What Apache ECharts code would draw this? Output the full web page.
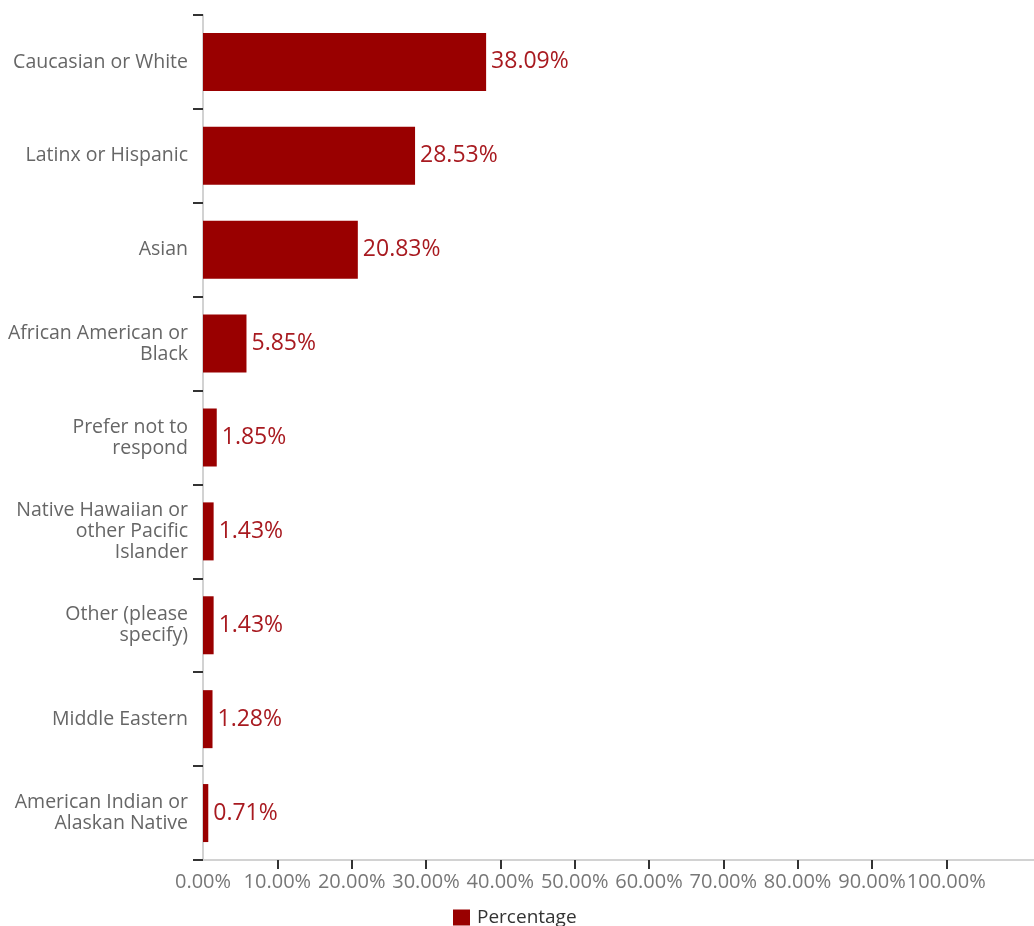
<!DOCTYPE html>
<html>
<head>
<meta charset="utf-8">
<script src="https://cdn.jsdelivr.net/npm/echarts@6/dist/echarts.min.js"></script>
<style>
html,body{margin:0;padding:0;background:#fff;}
#chart{width:1034px;height:926px;}
</style>
</head>
<body>
<div id="chart"></div>
<script>
const categories = [
  "Caucasian or White",
  "Latinx or Hispanic",
  "Asian",
  "African American or\nBlack",
  "Prefer not to\nrespond",
  "Native Hawaiian or\nother Pacific\nIslander",
  "Other (please\nspecify)",
  "Middle Eastern",
  "American Indian or\nAlaskan Native"
];
const percentages = [38.09, 28.53, 20.83, 5.85, 1.85, 1.43, 1.43, 1.28, 0.71];
const tickValues = [0, 10, 20, 30, 40, 50, 60, 70, 80, 90, 100];
const seriesName = "Percentage";

const chart = echarts.init(document.getElementById('chart'), null, {renderer: 'canvas'});
const font = '"Open Sans", sans-serif';
chart.setOption({
  animation: false,
  textStyle: {fontFamily: font},
  grid: {left: 203, right: 0, top: 15, bottom: 66, containLabel: false},
  legend: {
    data: [seriesName],
    left: 448, top: 903,
    itemWidth: 17, itemHeight: 16,
    icon: 'rect',
    textStyle: {fontSize: 19, color: '#333', fontFamily: font, padding: [0, 0, 0, 2]}
  },
  xAxis: {
    type: 'value',
    min: 0, max: 111.8, interval: 10,
    splitLine: {show: false},
    axisLine: {show: true, lineStyle: {color: '#d2d2d2', width: 2}},
    axisTick: {show: true, length: 9, lineStyle: {color: '#333', width: 2}, customValues: tickValues.slice(1)},
    axisLabel: {
      color: '#777', fontSize: 20, margin: 12, fontFamily: font,
      hideOverlap: false,
      customValues: tickValues,
      formatter: v => v.toFixed(2) + '%'
    }
  },
  yAxis: {
    type: 'category',
    inverse: true,
    data: categories,
    axisLine: {show: true, lineStyle: {color: '#d2d2d2', width: 2}},
    axisTick: {show: true, length: 10, interval: 0, lineStyle: {color: '#333', width: 2}},
    axisLabel: {color: '#666', fontSize: 19.5, lineHeight: 21, margin: 15, fontFamily: font, align: 'right'}
  },
  series: [{
    name: seriesName,
    type: 'bar',
    data: percentages,
    barWidth: 58,
    itemStyle: {color: '#990000'},
    label: {
      show: true, position: 'right', distance: 5,
      color: '#a81a20', fontSize: 23, fontFamily: font,
      formatter: p => p.value.toFixed(2) + '%'
    }
  }]
});
</script>
</body>
</html>
